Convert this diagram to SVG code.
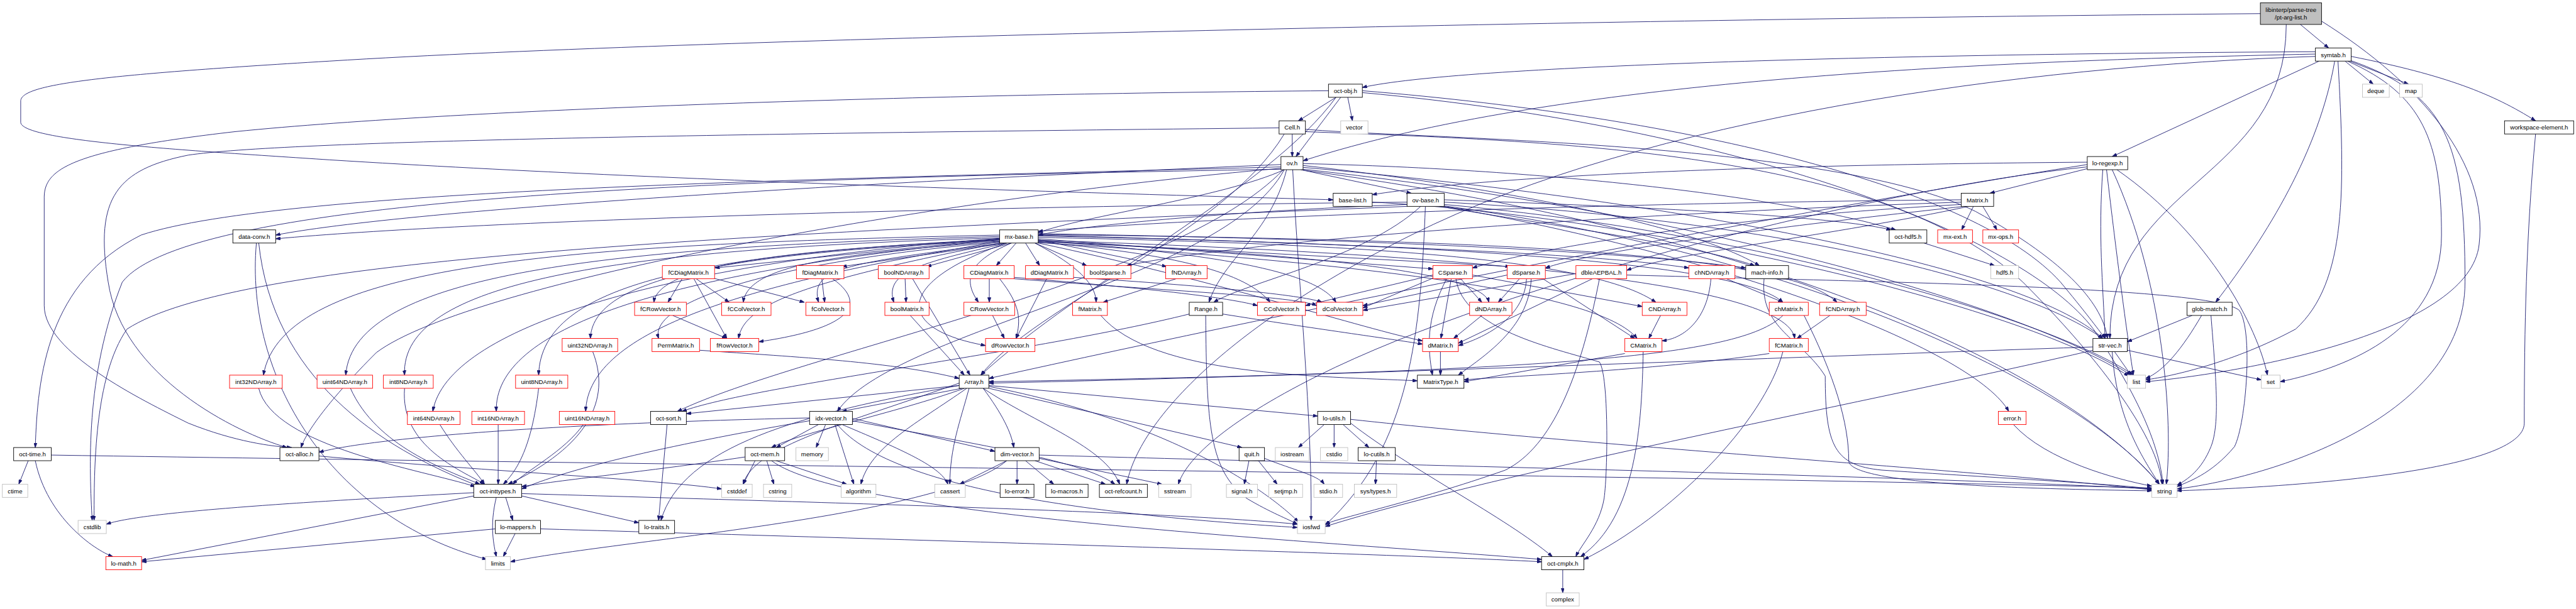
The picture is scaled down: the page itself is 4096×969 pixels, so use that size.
<svg xmlns="http://www.w3.org/2000/svg" width="4096" height="969" viewBox="0 0 4096 969">
<style>
.e{fill:none;stroke:#191970;stroke-width:1.2;marker-end:url(#a)}
.n rect{fill:#fff;stroke:#000;stroke-width:1.2}
.r rect{stroke:#ff0000}
.g rect{stroke:#bfbfbf}
.root rect{fill:#bfbfbf}
text{font-family:"Liberation Sans",Arial,Helvetica,sans-serif;font-size:13px;text-anchor:middle;fill:#000}
</style>
<defs>
<marker id="a" viewBox="0 0 10 7" refX="10" refY="3.5" markerWidth="10" markerHeight="7" markerUnits="userSpaceOnUse" orient="auto"><path d="M0,0 L10,3.5 L0,7 z" fill="#191970" stroke="#191970"/></marker>
</defs>
<rect width="4096" height="969" fill="#fff"/>
<g transform="scale(0.748)">
<g id="edges">
<path class="e" d="M4890,52 L4950,102"/>
<path class="e" d="M4860,52 C4860,386 4485,386 4485,720"/>
<path class="e" d="M4805,29 C3500,40 1500,80 700,130 C200,160 44,180 44,215 L44,260 C44,300 400,320 700,340 C1500,390 2500,415 2834,425"/>
<path class="e" d="M4935,45 C5150,180 5290,350 5270,520 C5250,700 4800,790 4561,812"/>
<path class="e" d="M4985,130 L5045,179"/>
<path class="e" d="M4995,130 L5120,179"/>
<path class="e" d="M4998,120 C5200,160 5300,200 5390,257"/>
<path class="e" d="M4930,130 L4490,333"/>
<path class="e" d="M4963,130 C4930,320 4820,500 4710,643"/>
<path class="e" d="M4990,130 C5150,200 5190,300 5190,500 C5190,700 5000,780 4847,812"/>
<path class="e" d="M4995,128 C5200,200 5240,300 5240,600 C5240,900 4800,1020 4628,1040"/>
<path class="e" d="M4970,130 C4985,400 4990,600 4880,700 C4750,770 4620,800 4561,808"/>
<path class="e" d="M4922,110 C4000,115 3100,140 2896,186"/>
<path class="e" d="M4922,115 C4200,130 3300,170 2770,342"/>
<path class="e" d="M4922,120 C4300,140 3500,250 3000,500 C2600,700 2420,900 2395,1030"/>
<path class="e" d="M5390,285 C5370,500 5366,700 5366,900 C5366,1000 4900,1035 4628,1044"/>
<path class="e" d="M2840,207 L2760,257"/>
<path class="e" d="M2865,207 L2875,257"/>
<path class="e" d="M2850,207 L2755,333"/>
<path class="e" d="M2824,193 C2000,200 1000,230 500,280 C150,320 94,360 94,420 L94,650 C94,750 300,850 400,900 C500,940 580,950 620,952"/>
<path class="e" d="M2896,193 C3600,250 4200,400 4380,600 C4430,660 4460,700 4475,720"/>
<path class="e" d="M2840,207 C2700,400 2300,600 2085,798"/>
<path class="e" d="M2896,197 C3700,270 4300,500 4450,700 C4550,850 4590,950 4598,1030"/>
<path class="e" d="M2747,285 L2747,333"/>
<path class="e" d="M2730,285 C2600,500 2200,650 2085,798"/>
<path class="e" d="M2719,272 C1500,285 600,300 400,330 C250,360 200,420 230,600 C260,800 500,920 610,952"/>
<path class="e" d="M2775,275 C3000,295 3900,300 4200,450 C4400,560 4470,650 4480,720"/>
<path class="e" d="M2775,280 C3300,300 4000,320 4300,600 C4500,800 4590,950 4596,1030"/>
<path class="e" d="M2765,361 L3000,411"/>
<path class="e" d="M2730,361 C2600,420 2300,460 2207,495"/>
<path class="e" d="M2735,361 C2700,500 2600,550 2570,643"/>
<path class="e" d="M2723,350 C2000,380 900,440 586,500"/>
<path class="e" d="M2730,361 C2600,600 1900,700 1780,875"/>
<path class="e" d="M2770,352 C3200,400 3600,480 3740,565"/>
<path class="e" d="M2770,348 C3300,360 3800,420 4030,489"/>
<path class="e" d="M2723,358 C2000,420 1000,600 800,750 C700,850 650,920 640,952"/>
<path class="e" d="M2723,355 C1800,380 600,400 300,500 C100,600 80,800 75,952"/>
<path class="e" d="M2770,356 C3500,420 4300,560 4470,720"/>
<path class="e" d="M2728,361 C2500,600 1700,750 1440,875"/>
<path class="e" d="M2723,360 C1500,380 400,420 260,600 C180,800 190,1000 196,1107"/>
<path class="e" d="M2748,361 C2760,600 2790,900 2787,1107"/>
<path class="e" d="M2770,360 C3600,450 4300,650 4530,798"/>
<path class="e" d="M2770,362 C3800,500 4400,800 4590,1030"/>
<path class="e" d="M3020,439 C2900,550 2650,600 2580,643"/>
<path class="e" d="M2991,430 C2000,440 1000,470 586,508"/>
<path class="e" d="M2991,435 C2600,450 2300,480 2207,500"/>
<path class="e" d="M3030,439 C3020,700 3000,950 2817,1117"/>
<path class="e" d="M2991,439 C1500,500 500,550 270,700 C200,800 200,1000 200,1107"/>
<path class="e" d="M3070,430 C3800,470 4300,600 4470,720"/>
<path class="e" d="M3070,435 C3800,500 4400,700 4535,798"/>
<path class="e" d="M3070,438 C3900,550 4450,850 4590,1030"/>
<path class="e" d="M3070,425 C3500,440 3900,460 4020,489"/>
<path class="e" d="M3060,439 C3300,480 3600,520 3730,565"/>
<path class="e" d="M3070,439 C3700,550 4200,750 4270,875"/>
<path class="e" d="M2917,430 C3500,460 4300,650 4525,800"/>
<path class="e" d="M4440,358 L4230,411"/>
<path class="e" d="M4437,345 C3800,350 3200,370 2917,414"/>
<path class="e" d="M4470,361 C4460,500 4470,600 4475,720"/>
<path class="e" d="M4478,361 C4500,550 4520,700 4535,798"/>
<path class="e" d="M4500,361 C4700,500 4800,700 4820,798"/>
<path class="e" d="M4490,361 C4600,600 4620,900 4605,1030"/>
<path class="e" d="M4437,355 C4000,400 3200,600 2800,800 C2600,900 2520,980 2505,1030"/>
<path class="e" d="M4437,350 C3800,450 2800,650 2102,805"/>
<path class="e" d="M4195,439 L4170,489"/>
<path class="e" d="M4215,439 L4245,489"/>
<path class="e" d="M4169,425 C3500,430 2600,460 2207,492"/>
<path class="e" d="M4169,430 C3300,460 2600,520 2395,565"/>
<path class="e" d="M4169,435 C3700,460 3300,520 3130,570"/>
<path class="e" d="M4175,439 C3800,480 3400,530 3285,570"/>
<path class="e" d="M4185,439 C3900,500 3550,540 3458,575"/>
<path class="e" d="M545,517 C520,800 700,1100 1035,1190"/>
<path class="e" d="M550,517 C580,800 800,950 1020,1035"/>
<path class="e" d="M2125,508 L1520,570"/>
<path class="e" d="M2140,517 L1790,567"/>
<path class="e" d="M2150,517 L1970,567"/>
<path class="e" d="M2160,517 L2118,565"/>
<path class="e" d="M2180,517 L2210,565"/>
<path class="e" d="M2200,517 L2310,565"/>
<path class="e" d="M2207,510 L2480,567"/>
<path class="e" d="M2125,510 C1700,530 1400,560 1390,643"/>
<path class="e" d="M2125,513 C1800,540 1590,560 1580,643"/>
<path class="e" d="M2130,517 C1800,560 1720,570 1740,643"/>
<path class="e" d="M2140,517 C1950,560 1880,580 1900,643"/>
<path class="e" d="M2150,517 C2050,560 2050,600 2080,643"/>
<path class="e" d="M2200,517 C2280,560 2330,600 2330,643"/>
<path class="e" d="M2207,515 C2500,540 2650,580 2700,643"/>
<path class="e" d="M2207,512 C2600,540 2800,580 2840,643"/>
<path class="e" d="M2140,517 C1900,600 1900,700 2095,735"/>
<path class="e" d="M2125,515 C1600,560 1380,650 1400,720"/>
<path class="e" d="M2125,517 C1700,600 1580,650 1570,720"/>
<path class="e" d="M2207,508 L3046,572"/>
<path class="e" d="M2207,512 L3210,567"/>
<path class="e" d="M2207,514 C2800,540 3150,580 3165,643"/>
<path class="e" d="M2207,505 C3000,520 3400,560 3520,643"/>
<path class="e" d="M2207,500 C2900,520 3400,540 3590,570"/>
<path class="e" d="M2207,497 C3000,510 3500,540 3711,570"/>
<path class="e" d="M2207,502 C3100,520 3700,560 3790,643"/>
<path class="e" d="M2207,499 C3200,510 3800,540 3905,643"/>
<path class="e" d="M2207,517 C2600,600 2900,700 3024,725"/>
<path class="e" d="M2207,516 C2900,560 3400,620 3480,720"/>
<path class="e" d="M2207,511 C3100,540 3800,600 3815,720"/>
<path class="e" d="M2125,512 C1500,540 1260,600 1255,720"/>
<path class="e" d="M2125,500 C1200,520 600,560 560,798"/>
<path class="e" d="M2125,503 C1300,525 750,580 735,798"/>
<path class="e" d="M2125,506 C1300,530 850,600 860,798"/>
<path class="e" d="M2125,509 C1500,540 1150,600 1145,798"/>
<path class="e" d="M2125,507 C1400,560 950,700 920,875"/>
<path class="e" d="M2125,510 C1400,580 1050,700 1055,875"/>
<path class="e" d="M2125,514 C1600,600 1250,700 1245,875"/>
<path class="e" d="M4090,517 L4240,565"/>
<path class="e" d="M1450,593 L1420,643"/>
<path class="e" d="M1480,593 L1550,643"/>
<path class="e" d="M1510,590 L1710,643"/>
<path class="e" d="M1475,593 L1545,720"/>
<path class="e" d="M1747,593 L1753,643"/>
<path class="e" d="M1770,593 C1850,650 1800,700 1613,727"/>
<path class="e" d="M1924,593 L1926,643"/>
<path class="e" d="M1940,593 L2062,798"/>
<path class="e" d="M2103,593 L2103,643"/>
<path class="e" d="M2125,593 C2170,650 2170,680 2160,720"/>
<path class="e" d="M2156,590 C2400,610 2600,630 2673,650"/>
<path class="e" d="M2156,593 C2500,620 2750,630 2799,650"/>
<path class="e" d="M2225,593 L2160,720"/>
<path class="e" d="M2282,590 C2600,610 2780,630 2810,643"/>
<path class="e" d="M2500,593 L2345,643"/>
<path class="e" d="M3046,585 L2775,650"/>
<path class="e" d="M3050,590 L2897,655"/>
<path class="e" d="M3075,593 C3030,680 3035,740 3045,798"/>
<path class="e" d="M3085,593 L3063,720"/>
<path class="e" d="M3105,593 L3150,643"/>
<path class="e" d="M3130,585 L3491,652"/>
<path class="e" d="M3095,593 C3110,700 3300,740 3400,770 C3420,800 3418,1000 3410,1060 C3400,1120 3360,1160 3350,1184"/>
<path class="e" d="M3230,593 L3185,643"/>
<path class="e" d="M3204,585 L2897,650"/>
<path class="e" d="M3245,593 C3240,680 3150,720 3100,735"/>
<path class="e" d="M3255,593 C3250,700 3150,760 3100,798"/>
<path class="e" d="M3280,593 L3475,720"/>
<path class="e" d="M3385,593 L3100,730"/>
<path class="e" d="M3350,582 L2897,660"/>
<path class="e" d="M3400,593 C3360,800 3300,950 3200,1000 C3000,1070 2850,1100 2817,1115"/>
<path class="e" d="M3458,585 C4000,600 4700,610 4760,660 C4790,700 4775,900 4750,950 C4700,1010 4650,1025 4628,1035"/>
<path class="e" d="M3670,593 L3790,643"/>
<path class="e" d="M3637,593 C3630,680 3580,720 3533,725"/>
<path class="e" d="M3493,748 C3490,900 3480,1100 3360,1184"/>
<path class="e" d="M3750,593 C3740,700 3830,720 3880,800 C3880,950 3900,990 4000,1000 C4300,1020 4500,1030 4574,1040"/>
<path class="e" d="M1430,671 L1545,720"/>
<path class="e" d="M1935,671 L2050,798"/>
<path class="e" d="M2110,671 L2135,720"/>
<path class="e" d="M2340,671 C2450,800 2800,800 3013,810"/>
<path class="e" d="M2528,668 C2200,750 1600,820 1450,875"/>
<path class="e" d="M2599,668 C2800,700 2950,720 3024,732"/>
<path class="e" d="M2563,671 C2565,900 2570,1000 2650,1060 C2700,1090 2740,1105 2758,1115"/>
<path class="e" d="M3150,671 L3090,720"/>
<path class="e" d="M3530,671 L3505,720"/>
<path class="e" d="M3790,671 C3700,760 3300,790 2102,812"/>
<path class="e" d="M3835,671 C3900,800 3930,900 3930,980 C3930,1030 4300,1040 4574,1044"/>
<path class="e" d="M3890,671 L3820,720"/>
<path class="e" d="M4660,671 L4522,727"/>
<path class="e" d="M4680,671 C4640,740 4600,790 4561,805"/>
<path class="e" d="M4700,671 C4710,800 4720,900 4700,950 C4680,1000 4650,1020 4628,1032"/>
<path class="e" d="M1260,748 C1300,850 1250,950 1080,1030"/>
<path class="e" d="M1487,745 C1700,760 1900,770 2039,805"/>
<path class="e" d="M3062,748 L3062,798"/>
<path class="e" d="M3454,752 L3112,812"/>
<path class="e" d="M3761,752 C3500,790 3200,800 3112,808"/>
<path class="e" d="M3790,748 C3750,900 3550,1100 3367,1190"/>
<path class="e" d="M4495,748 L4530,798"/>
<path class="e" d="M4522,745 L4807,808"/>
<path class="e" d="M4490,748 C4500,900 4560,980 4590,1030"/>
<path class="e" d="M4449,738 C3800,760 2800,800 2102,815"/>
<path class="e" d="M4449,745 C4000,850 3200,1000 2817,1120"/>
<path class="e" d="M550,826 C580,950 900,1000 1010,1035"/>
<path class="e" d="M745,826 C800,950 950,1000 1020,1030"/>
<path class="e" d="M860,826 C850,950 980,1000 1030,1030"/>
<path class="e" d="M1145,826 C1130,950 1100,1000 1070,1030"/>
<path class="e" d="M2045,826 L1790,875"/>
<path class="e" d="M2039,820 L1459,880"/>
<path class="e" d="M2090,826 C2130,880 2150,920 2155,952"/>
<path class="e" d="M2050,826 C1900,880 1700,920 1640,952"/>
<path class="e" d="M2102,820 L2801,885"/>
<path class="e" d="M2102,826 L2640,952"/>
<path class="e" d="M2090,826 C2200,900 2350,950 2380,1030"/>
<path class="e" d="M2060,826 C2040,900 2020,950 2019,1030"/>
<path class="e" d="M2055,826 C1950,900 1850,950 1830,1030"/>
<path class="e" d="M2039,815 C1800,900 1600,950 1580,1030"/>
<path class="e" d="M2039,820 C1700,880 1450,950 1405,1107"/>
<path class="e" d="M2102,822 C2500,900 2700,1050 2760,1110"/>
<path class="e" d="M935,903 C970,960 1010,1000 1030,1030"/>
<path class="e" d="M1059,903 L1059,1030"/>
<path class="e" d="M1240,903 C1200,960 1120,1000 1090,1030"/>
<path class="e" d="M1418,903 L1400,1107"/>
<path class="e" d="M1740,903 L1650,952"/>
<path class="e" d="M1755,903 L1735,952"/>
<path class="e" d="M1775,903 L1815,1030"/>
<path class="e" d="M1790,903 C1900,950 2000,990 2015,1030"/>
<path class="e" d="M1812,890 L2115,960"/>
<path class="e" d="M1812,895 C2100,950 2300,980 2370,1030"/>
<path class="e" d="M1721,895 C1400,950 1200,1000 1109,1040"/>
<path class="e" d="M1721,889 C1200,900 800,930 678,962"/>
<path class="e" d="M1780,903 C1900,1050 2400,1100 2758,1122"/>
<path class="e" d="M2815,903 L2760,952"/>
<path class="e" d="M2836,903 L2836,952"/>
<path class="e" d="M2855,903 L2910,952"/>
<path class="e" d="M2871,900 C3000,1000 3200,1100 3300,1184"/>
<path class="e" d="M2871,892 C3400,950 4200,1000 4574,1042"/>
<path class="e" d="M4280,903 C4350,980 4500,1020 4574,1034"/>
<path class="e" d="M60,980 L40,1030"/>
<path class="e" d="M75,980 C100,1100 200,1170 240,1184"/>
<path class="e" d="M109,968 C1500,990 3500,1010 4574,1038"/>
<path class="e" d="M678,970 C1000,1000 1400,1020 1534,1040"/>
<path class="e" d="M1605,980 L1580,1030"/>
<path class="e" d="M1630,980 L1645,1030"/>
<path class="e" d="M1650,980 L1800,1030"/>
<path class="e" d="M1640,980 C1800,1100 2800,1150 3277,1190"/>
<path class="e" d="M1584,972 C1400,1000 1200,1020 1109,1035"/>
<path class="e" d="M2140,980 L2040,1030"/>
<path class="e" d="M2162,980 L2162,1030"/>
<path class="e" d="M2180,980 L2240,1030"/>
<path class="e" d="M2200,980 L2350,1030"/>
<path class="e" d="M2209,975 L2470,1030"/>
<path class="e" d="M2209,968 C3000,990 4000,1010 4574,1040"/>
<path class="e" d="M2140,980 C2000,1100 1300,1150 1085,1195"/>
<path class="e" d="M2655,980 L2645,1030"/>
<path class="e" d="M2675,980 L2715,1030"/>
<path class="e" d="M2688,975 C2750,1000 2800,1010 2815,1030"/>
<path class="e" d="M2926,980 L2924,1030"/>
<path class="e" d="M1007,1048 C600,1070 300,1090 226,1115"/>
<path class="e" d="M1007,1055 L301,1192"/>
<path class="e" d="M1075,1058 L1090,1107"/>
<path class="e" d="M1055,1058 C1040,1120 1050,1160 1055,1184"/>
<path class="e" d="M1109,1055 L1358,1112"/>
<path class="e" d="M1109,1050 C1800,1070 2500,1090 2758,1115"/>
<path class="e" d="M1053,1125 L301,1195"/>
<path class="e" d="M1095,1135 L1070,1184"/>
<path class="e" d="M1149,1125 C2000,1150 3000,1180 3277,1195"/>
<path class="e" d="M3322,1212 L3322,1261"/>
</g>
<g id="n-pt-arg-list" class="n root"><rect x="4805" y="6" width="130" height="46"/><text x="4870" y="25">libinterp/parse-tree</text><text x="4870" y="42">/pt-arg-list.h</text></g>
<g id="n-symtab" class="n"><rect x="4922" y="102" width="76" height="28"/><text x="4960" y="121">symtab.h</text></g>
<g id="n-oct-obj" class="n"><rect x="2824" y="179" width="72" height="28"/><text x="2860" y="198">oct-obj.h</text></g>
<g id="n-deque" class="n g"><rect x="5022" y="179" width="57" height="28"/><text x="5050.5" y="198">deque</text></g>
<g id="n-map" class="n g"><rect x="5101" y="179" width="48" height="28"/><text x="5125" y="198">map</text></g>
<g id="n-Cell" class="n"><rect x="2719" y="257" width="56" height="28"/><text x="2747" y="276">Cell.h</text></g>
<g id="n-vector" class="n g"><rect x="2850" y="257" width="58" height="28"/><text x="2879" y="276">vector</text></g>
<g id="n-workspace-element" class="n"><rect x="5324" y="257" width="147" height="28"/><text x="5397.5" y="276">workspace-element.h</text></g>
<g id="n-ov" class="n"><rect x="2723" y="333" width="47" height="28"/><text x="2746.5" y="352">ov.h</text></g>
<g id="n-lo-regexp" class="n"><rect x="4437" y="333" width="86" height="28"/><text x="4480" y="352">lo-regexp.h</text></g>
<g id="n-base-list" class="n"><rect x="2834" y="411" width="83" height="28"/><text x="2875.5" y="430">base-list.h</text></g>
<g id="n-ov-base" class="n"><rect x="2991" y="411" width="79" height="28"/><text x="3030.5" y="430">ov-base.h</text></g>
<g id="n-Matrix" class="n"><rect x="4169" y="411" width="69" height="28"/><text x="4203.5" y="430">Matrix.h</text></g>
<g id="n-data-conv" class="n"><rect x="495" y="489" width="91" height="28"/><text x="540.5" y="508">data-conv.h</text></g>
<g id="n-mx-base" class="n"><rect x="2125" y="489" width="82" height="28"/><text x="2166" y="508">mx-base.h</text></g>
<g id="n-oct-hdf5" class="n"><rect x="4016" y="489" width="80" height="28"/><text x="4056" y="508">oct-hdf5.h</text></g>
<g id="n-mx-ext" class="n r"><rect x="4119" y="489" width="74" height="28"/><text x="4156" y="508">mx-ext.h</text></g>
<g id="n-mx-ops" class="n r"><rect x="4215" y="489" width="76" height="28"/><text x="4253" y="508">mx-ops.h</text></g>
<g id="n-fCDiagMatrix" class="n r"><rect x="1408" y="565" width="111" height="28"/><text x="1463.5" y="584">fCDiagMatrix.h</text></g>
<g id="n-fDiagMatrix" class="n r"><rect x="1693" y="565" width="101" height="28"/><text x="1743.5" y="584">fDiagMatrix.h</text></g>
<g id="n-boolNDArray" class="n r"><rect x="1867" y="565" width="108" height="28"/><text x="1921" y="584">boolNDArray.h</text></g>
<g id="n-CDiagMatrix" class="n r"><rect x="2049" y="565" width="107" height="28"/><text x="2102.5" y="584">CDiagMatrix.h</text></g>
<g id="n-dDiagMatrix" class="n r"><rect x="2180" y="565" width="102" height="28"/><text x="2231" y="584">dDiagMatrix.h</text></g>
<g id="n-boolSparse" class="n r"><rect x="2305" y="565" width="99" height="28"/><text x="2354.5" y="584">boolSparse.h</text></g>
<g id="n-fNDArray" class="n r"><rect x="2478" y="565" width="88" height="28"/><text x="2522" y="584">fNDArray.h</text></g>
<g id="n-CSparse" class="n r"><rect x="3046" y="565" width="84" height="28"/><text x="3088" y="584">CSparse.h</text></g>
<g id="n-dSparse" class="n r"><rect x="3204" y="565" width="81" height="28"/><text x="3244.5" y="584">dSparse.h</text></g>
<g id="n-dbleAEPBAL" class="n r"><rect x="3350" y="565" width="108" height="28"/><text x="3404" y="584">dbleAEPBAL.h</text></g>
<g id="n-chNDArray" class="n r"><rect x="3590" y="565" width="98" height="28"/><text x="3639" y="584">chNDArray.h</text></g>
<g id="n-mach-info" class="n"><rect x="3711" y="565" width="91" height="28"/><text x="3756.5" y="584">mach-info.h</text></g>
<g id="n-hdf5" class="n g"><rect x="4232" y="565" width="59" height="28"/><text x="4261.5" y="584">hdf5.h</text></g>
<g id="n-fCRowVector" class="n r"><rect x="1349" y="643" width="110" height="28"/><text x="1404" y="662">fCRowVector.h</text></g>
<g id="n-fCColVector" class="n r"><rect x="1534" y="643" width="105" height="28"/><text x="1586.5" y="662">fCColVector.h</text></g>
<g id="n-fColVector" class="n r"><rect x="1713" y="643" width="94" height="28"/><text x="1760" y="662">fColVector.h</text></g>
<g id="n-boolMatrix" class="n r"><rect x="1881" y="643" width="94" height="28"/><text x="1928" y="662">boolMatrix.h</text></g>
<g id="n-CRowVector" class="n r"><rect x="2049" y="643" width="108" height="28"/><text x="2103" y="662">CRowVector.h</text></g>
<g id="n-fMatrix" class="n r"><rect x="2280" y="643" width="74" height="28"/><text x="2317" y="662">fMatrix.h</text></g>
<g id="n-Range" class="n"><rect x="2528" y="643" width="71" height="28"/><text x="2563.5" y="662">Range.h</text></g>
<g id="n-CColVector" class="n r"><rect x="2673" y="643" width="102" height="28"/><text x="2724" y="662">CColVector.h</text></g>
<g id="n-dColVector" class="n r"><rect x="2799" y="643" width="98" height="28"/><text x="2848" y="662">dColVector.h</text></g>
<g id="n-dNDArray" class="n r"><rect x="3124" y="643" width="90" height="28"/><text x="3169" y="662">dNDArray.h</text></g>
<g id="n-CNDArray" class="n r"><rect x="3491" y="643" width="95" height="28"/><text x="3538.5" y="662">CNDArray.h</text></g>
<g id="n-chMatrix" class="n r"><rect x="3761" y="643" width="83" height="28"/><text x="3802.5" y="662">chMatrix.h</text></g>
<g id="n-fCNDArray" class="n r"><rect x="3868" y="643" width="99" height="28"/><text x="3917.5" y="662">fCNDArray.h</text></g>
<g id="n-glob-match" class="n"><rect x="4649" y="643" width="96" height="28"/><text x="4697" y="662">glob-match.h</text></g>
<g id="n-uint32NDArray" class="n r"><rect x="1195" y="720" width="118" height="28"/><text x="1254" y="739">uint32NDArray.h</text></g>
<g id="n-PermMatrix" class="n r"><rect x="1386" y="720" width="101" height="28"/><text x="1436.5" y="739">PermMatrix.h</text></g>
<g id="n-fRowVector" class="n r"><rect x="1510" y="720" width="103" height="28"/><text x="1561.5" y="739">fRowVector.h</text></g>
<g id="n-dRowVector" class="n r"><rect x="2095" y="720" width="105" height="28"/><text x="2147.5" y="739">dRowVector.h</text></g>
<g id="n-dMatrix" class="n r"><rect x="3024" y="720" width="76" height="28"/><text x="3062" y="739">dMatrix.h</text></g>
<g id="n-CMatrix" class="n r"><rect x="3454" y="720" width="79" height="28"/><text x="3493.5" y="739">CMatrix.h</text></g>
<g id="n-fCMatrix" class="n r"><rect x="3761" y="720" width="83" height="28"/><text x="3802.5" y="739">fCMatrix.h</text></g>
<g id="n-str-vec" class="n"><rect x="4449" y="720" width="73" height="28"/><text x="4485.5" y="739">str-vec.h</text></g>
<g id="n-int32NDArray" class="n r"><rect x="488" y="798" width="112" height="28"/><text x="544" y="817">int32NDArray.h</text></g>
<g id="n-uint64NDArray" class="n r"><rect x="674" y="798" width="118" height="28"/><text x="733" y="817">uint64NDArray.h</text></g>
<g id="n-int8NDArray" class="n r"><rect x="815" y="798" width="106" height="28"/><text x="868" y="817">int8NDArray.h</text></g>
<g id="n-uint8NDArray" class="n r"><rect x="1096" y="798" width="111" height="28"/><text x="1151.5" y="817">uint8NDArray.h</text></g>
<g id="n-Array" class="n"><rect x="2039" y="798" width="63" height="28"/><text x="2070.5" y="817">Array.h</text></g>
<g id="n-MatrixType" class="n"><rect x="3013" y="798" width="99" height="28"/><text x="3062.5" y="817">MatrixType.h</text></g>
<g id="n-list" class="n g"><rect x="4522" y="798" width="39" height="28"/><text x="4541.5" y="817">list</text></g>
<g id="n-set" class="n g"><rect x="4807" y="798" width="40" height="28"/><text x="4827" y="817">set</text></g>
<g id="n-int64NDArray" class="n r"><rect x="866" y="875" width="112" height="28"/><text x="922" y="894">int64NDArray.h</text></g>
<g id="n-int16NDArray" class="n r"><rect x="1003" y="875" width="112" height="28"/><text x="1059" y="894">int16NDArray.h</text></g>
<g id="n-uint16NDArray" class="n r"><rect x="1189" y="875" width="118" height="28"/><text x="1248" y="894">uint16NDArray.h</text></g>
<g id="n-oct-sort" class="n"><rect x="1383" y="875" width="76" height="28"/><text x="1421" y="894">oct-sort.h</text></g>
<g id="n-idx-vector" class="n"><rect x="1721" y="875" width="91" height="28"/><text x="1766.5" y="894">idx-vector.h</text></g>
<g id="n-lo-utils" class="n"><rect x="2801" y="875" width="70" height="28"/><text x="2836" y="894">lo-utils.h</text></g>
<g id="n-error" class="n r"><rect x="4248" y="875" width="59" height="28"/><text x="4277.5" y="894">error.h</text></g>
<g id="n-oct-time" class="n"><rect x="29" y="952" width="80" height="28"/><text x="69" y="971">oct-time.h</text></g>
<g id="n-oct-alloc" class="n"><rect x="595" y="952" width="83" height="28"/><text x="636.5" y="971">oct-alloc.h</text></g>
<g id="n-oct-mem" class="n"><rect x="1584" y="952" width="84" height="28"/><text x="1626" y="971">oct-mem.h</text></g>
<g id="n-memory" class="n g"><rect x="1692" y="952" width="69" height="28"/><text x="1726.5" y="971">memory</text></g>
<g id="n-dim-vector" class="n"><rect x="2115" y="952" width="94" height="28"/><text x="2162" y="971">dim-vector.h</text></g>
<g id="n-quit" class="n"><rect x="2634" y="952" width="54" height="28"/><text x="2661" y="971">quit.h</text></g>
<g id="n-iostream" class="n g"><rect x="2711" y="952" width="72" height="28"/><text x="2747" y="971">iostream</text></g>
<g id="n-cstdio" class="n g"><rect x="2807" y="952" width="58" height="28"/><text x="2836" y="971">cstdio</text></g>
<g id="n-lo-cutils" class="n"><rect x="2887" y="952" width="79" height="28"/><text x="2926.5" y="971">lo-cutils.h</text></g>
<g id="n-ctime" class="n g"><rect x="5" y="1030" width="54" height="28"/><text x="32" y="1049">ctime</text></g>
<g id="n-oct-inttypes" class="n"><rect x="1007" y="1030" width="102" height="28"/><text x="1058" y="1049">oct-inttypes.h</text></g>
<g id="n-cstddef" class="n g"><rect x="1534" y="1030" width="65" height="28"/><text x="1566.5" y="1049">cstddef</text></g>
<g id="n-cstring" class="n g"><rect x="1623" y="1030" width="60" height="28"/><text x="1653" y="1049">cstring</text></g>
<g id="n-algorithm" class="n g"><rect x="1788" y="1030" width="74" height="28"/><text x="1825" y="1049">algorithm</text></g>
<g id="n-cassert" class="n g"><rect x="1987" y="1030" width="65" height="28"/><text x="2019.5" y="1049">cassert</text></g>
<g id="n-lo-error" class="n"><rect x="2126" y="1030" width="72" height="28"/><text x="2162" y="1049">lo-error.h</text></g>
<g id="n-lo-macros" class="n"><rect x="2223" y="1030" width="90" height="28"/><text x="2268" y="1049">lo-macros.h</text></g>
<g id="n-oct-refcount" class="n"><rect x="2337" y="1030" width="102" height="28"/><text x="2388" y="1049">oct-refcount.h</text></g>
<g id="n-sstream" class="n g"><rect x="2463" y="1030" width="69" height="28"/><text x="2497.5" y="1049">sstream</text></g>
<g id="n-signal" class="n g"><rect x="2607" y="1030" width="66" height="28"/><text x="2640" y="1049">signal.h</text></g>
<g id="n-setjmp" class="n g"><rect x="2697" y="1030" width="72" height="28"/><text x="2733" y="1049">setjmp.h</text></g>
<g id="n-stdio" class="n g"><rect x="2793" y="1030" width="61" height="28"/><text x="2823.5" y="1049">stdio.h</text></g>
<g id="n-sys-types" class="n g"><rect x="2879" y="1030" width="90" height="28"/><text x="2924" y="1049">sys/types.h</text></g>
<g id="n-string" class="n g"><rect x="4574" y="1030" width="54" height="28"/><text x="4601" y="1049">string</text></g>
<g id="n-cstdlib" class="n g"><rect x="166" y="1107" width="60" height="28"/><text x="196" y="1126">cstdlib</text></g>
<g id="n-lo-mappers" class="n"><rect x="1053" y="1107" width="96" height="28"/><text x="1101" y="1126">lo-mappers.h</text></g>
<g id="n-lo-traits" class="n"><rect x="1358" y="1107" width="76" height="28"/><text x="1396" y="1126">lo-traits.h</text></g>
<g id="n-iosfwd" class="n g"><rect x="2758" y="1107" width="59" height="28"/><text x="2787.5" y="1126">iosfwd</text></g>
<g id="n-lo-math" class="n r"><rect x="225" y="1184" width="76" height="28"/><text x="263" y="1203">lo-math.h</text></g>
<g id="n-limits" class="n g"><rect x="1032" y="1184" width="53" height="28"/><text x="1058.5" y="1203">limits</text></g>
<g id="n-oct-cmplx" class="n"><rect x="3277" y="1184" width="90" height="28"/><text x="3322" y="1203">oct-cmplx.h</text></g>
<g id="n-complex" class="n g"><rect x="3287" y="1261" width="70" height="28"/><text x="3322" y="1280">complex</text></g>
</g>
</svg>
